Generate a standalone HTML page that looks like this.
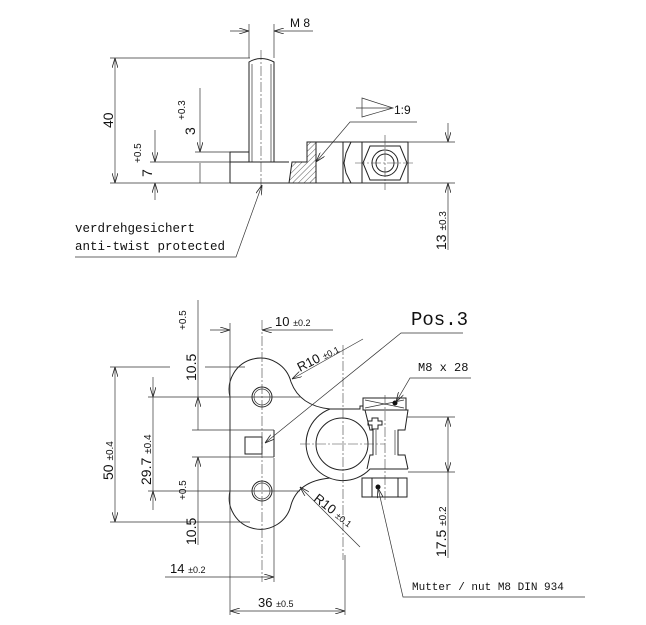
<!DOCTYPE html>
<html><head><meta charset="utf-8"><style>
html,body{margin:0;padding:0;background:#fff;}
svg{display:block;}
.l{stroke:#222;stroke-width:1;fill:none;}
.t{stroke:#333;stroke-width:0.7;fill:none;}
.c{stroke:#444;stroke-width:0.6;fill:none;stroke-dasharray:10 2 2 2;}
.n{font-family:"Liberation Sans",sans-serif;fill:#111;}
.m{font-family:"Liberation Mono",monospace;fill:#111;}
</style></head><body>
<svg width="646" height="625" viewBox="0 0 646 625" xmlns="http://www.w3.org/2000/svg">
<defs>
<marker id="a" viewBox="0 0 10 6" refX="10" refY="3" markerWidth="10" markerHeight="6" orient="auto-start-reverse" markerUnits="userSpaceOnUse"><path d="M0,0 L10,3 L0,6" fill="none" stroke="#222" stroke-width="0.8"/></marker>
<pattern id="h" width="4" height="4" patternUnits="userSpaceOnUse" patternTransform="rotate(45)"><line x1="0" y1="0" x2="0" y2="4" stroke="#333" stroke-width="0.8"/></pattern>
</defs>

<!-- ===== TOP VIEW ===== -->
<path class="l" d="M249,162 L249,62 Q261,55 274,62 L274,162"/>
<line class="t" x1="252" y1="64" x2="252" y2="162"/><line class="t" x1="271" y1="64" x2="271" y2="162"/>
<line class="c" x1="261" y1="50" x2="261" y2="190"/>
<path class="l" d="M230,183 L230,152 L249,152 M230,162 L289,162 M230,183 L408,183 M316,142 L408,142 L408,183"/>
<path d="M292,162 L307,162 L307,142 L316,142 L316,183 L289,183 Z" fill="url(#h)" stroke="#222" stroke-width="1"/>
<line class="l" x1="343" y1="142" x2="343" y2="183"/><line class="l" x1="362" y1="142" x2="362" y2="183"/>
<path class="l" d="M351,142 L346,153 L344,163 L346,173 L351,183"/>
<polygon class="l" points="363,163 370,146 400,146 407,163 400,180 370,180"/>
<circle class="l" cx="385" cy="163" r="13"/><circle class="l" cx="385" cy="163" r="9"/>
<line class="c" x1="355" y1="163" x2="415" y2="163"/><line class="c" x1="385" y1="135" x2="385" y2="190"/>
<polygon class="t" points="362,98 393,108 362,117"/><line class="t" x1="356" y1="108" x2="393" y2="108"/>
<text class="n" x="394" y="114" font-size="12">1:9</text>
<polyline class="t" points="417,122 350,122 316,162" marker-end="url(#a)"/>
<line class="t" x1="249" y1="24" x2="249" y2="58"/><line class="t" x1="274" y1="24" x2="274" y2="58"/>
<line class="t" x1="230" y1="31" x2="249" y2="31" marker-end="url(#a)"/>
<line class="t" x1="313" y1="31" x2="274" y2="31" marker-end="url(#a)"/>
<text class="n" x="290" y="27" font-size="12">M 8</text>
<line class="t" x1="110" y1="58" x2="250" y2="58"/><line class="t" x1="110" y1="183" x2="455" y2="183"/>
<line class="t" x1="115" y1="58" x2="115" y2="183" marker-start="url(#a)" marker-end="url(#a)"/>
<text class="n" font-size="14" transform="translate(113,128) rotate(-90)">40</text>
<line class="t" x1="195" y1="152" x2="230" y2="152"/>
<line class="t" x1="200" y1="88" x2="200" y2="152" marker-end="url(#a)"/>
<line class="t" x1="200" y1="183" x2="200" y2="163"/>
<text class="n" font-size="14" transform="translate(195,135) rotate(-90)">3</text>
<text class="n" font-size="10" transform="translate(185,120) rotate(-90)">+0.3</text>
<line class="t" x1="150" y1="162" x2="230" y2="162"/>
<line class="t" x1="155" y1="130" x2="155" y2="162" marker-end="url(#a)"/>
<line class="t" x1="155" y1="200" x2="155" y2="183" marker-end="url(#a)"/>
<text class="n" font-size="14" transform="translate(152,177) rotate(-90)">7</text>
<text class="n" font-size="10" transform="translate(141,163) rotate(-90)">+0.5</text>
<line class="t" x1="408" y1="142" x2="455" y2="142"/>
<line class="t" x1="448" y1="123" x2="448" y2="142" marker-end="url(#a)"/>
<line class="t" x1="448" y1="250" x2="448" y2="183" marker-end="url(#a)"/>
<text class="n" font-size="14" transform="translate(446,250) rotate(-90)">13 <tspan font-size="10">±0.3</tspan></text>
<text class="m" x="75" y="232" font-size="12.5">verdrehgesichert</text>
<text class="m" x="75" y="250" font-size="12.5">anti-twist protected</text>
<polyline class="t" points="75,257 236,257 262,185" marker-end="url(#a)"/>

<!-- ===== BOTTOM VIEW ===== -->
<path class="l" d="M230,491 L230,397 A31,31 0 0 1 291,382 Q300,406 330,409 L360,409 L360,406 L363,406 L363,410"/>
<path class="l" d="M230,491 A31,31 0 0 0 291,505 Q298,481 330,478"/>
<path class="l" d="M330,409 A37,37 0 1 0 370,469 L408,469"/>
<circle class="l" cx="342" cy="444" r="26"/>
<circle class="l" cx="262" cy="397" r="10"/><circle class="t" cx="262" cy="397" r="8"/>
<circle class="l" cx="262" cy="491" r="10"/><circle class="t" cx="262" cy="491" r="8"/>
<line class="l" x1="274" y1="430" x2="274" y2="457"/>
<rect class="l" x="245" y="437" width="17" height="17"/>
<!-- clamp -->
<rect class="l" x="363" y="398" width="43" height="12"/>
<path class="t" d="M365,400 L404,408 M365,408 L404,400"/>
<circle cx="395" cy="403" r="2.5" fill="#111"/>
<path class="l" d="M363,410 L408,410 L405,430 L398,430 L398,455 L405,455 L408,469 M365,410 L370,430 L373,430 L373,455 L370,455 L367,469"/>
<line class="t" x1="376" y1="430" x2="376" y2="455"/><line class="t" x1="395" y1="430" x2="395" y2="455"/>
<path class="l" d="M372,418 h6 v3 h4 v4 h-4 v4 h-6 v-4 h-4 v-4 h4z"/>
<path class="l" d="M362,478 L407,478 L407,497 L362,497 Z M372,478 L372,497 M398,478 L398,497"/>
<circle cx="378" cy="487" r="2.5" fill="#111"/>
<!-- centerlines -->
<line class="c" x1="262" y1="320" x2="262" y2="582"/>
<line class="c" x1="343" y1="345" x2="343" y2="560"/>
<line class="c" x1="300" y1="444" x2="385" y2="444"/>
<line class="c" x1="385" y1="395" x2="385" y2="500"/>
<!-- ext lines -->
<line class="t" x1="230" y1="323" x2="230" y2="615"/>
<line class="t" x1="274" y1="458" x2="274" y2="582"/>
<line class="t" x1="345" y1="555" x2="345" y2="615"/>
<line class="t" x1="205" y1="367" x2="245" y2="367"/>
<line class="t" x1="110" y1="367" x2="170" y2="367"/>
<line class="t" x1="148" y1="397" x2="300" y2="397"/>
<line class="t" x1="192" y1="430" x2="274" y2="430"/>
<line class="t" x1="192" y1="457" x2="274" y2="457"/>
<line class="t" x1="148" y1="491" x2="300" y2="491"/>
<line class="t" x1="110" y1="522" x2="250" y2="522"/>
<line class="t" x1="210" y1="330" x2="230" y2="330" marker-end="url(#a)"/>
<line class="t" x1="333" y1="330" x2="262" y2="330" marker-end="url(#a)"/>
<text class="n" x="275" y="326" font-size="13">10 <tspan font-size="9">±0.2</tspan></text>
<line class="t" x1="363" y1="339" x2="292" y2="379" marker-end="url(#a)"/>
<text class="n" font-size="13" transform="translate(300,372) rotate(-27)">R10 <tspan font-size="9">±0.1</tspan></text>
<text class="m" x="411" y="325" font-size="19">Pos.3</text>
<polyline class="t" points="463,333 401,333 265,443" marker-end="url(#a)"/>
<text class="m" x="418" y="371" font-size="12">M8 x 28</text>
<polyline class="t" points="471,378 410,378 396,402" marker-end="url(#a)"/>
<line class="t" x1="198" y1="300" x2="198" y2="397"/>
<line class="t" x1="198" y1="430" x2="198" y2="397" marker-end="url(#a)"/>
<text class="n" font-size="14" transform="translate(196,381) rotate(-90)">10.5</text>
<text class="n" font-size="10" transform="translate(186,330) rotate(-90)">+0.5</text>
<line class="t" x1="115" y1="367" x2="115" y2="522" marker-start="url(#a)" marker-end="url(#a)"/>
<text class="n" font-size="14" transform="translate(113,480) rotate(-90)">50 <tspan font-size="10">±0.4</tspan></text>
<line class="t" x1="153" y1="377" x2="153" y2="397" marker-end="url(#a)"/>
<line class="t" x1="153" y1="510" x2="153" y2="491" marker-end="url(#a)"/>
<line class="t" x1="153" y1="397" x2="153" y2="491"/>
<text class="n" font-size="14" transform="translate(151,485) rotate(-90)">29.7 <tspan font-size="10">±0.4</tspan></text>
<line class="t" x1="198" y1="457" x2="198" y2="491" marker-start="url(#a)"/>
<line class="t" x1="198" y1="491" x2="198" y2="545"/>
<text class="n" font-size="14" transform="translate(196,545) rotate(-90)">10.5</text>
<text class="n" font-size="10" transform="translate(186,500) rotate(-90)">+0.5</text>
<line class="t" x1="360" y1="547" x2="300" y2="487" marker-end="url(#a)"/>
<text class="n" font-size="13" transform="translate(313,500) rotate(38)">R10 <tspan font-size="9">±0.1</tspan></text>
<line class="t" x1="407" y1="417" x2="455" y2="417"/><line class="t" x1="408" y1="472" x2="455" y2="472"/>
<line class="t" x1="448" y1="417" x2="448" y2="472" marker-start="url(#a)" marker-end="url(#a)"/>
<line class="t" x1="448" y1="472" x2="448" y2="558"/>
<text class="n" font-size="14" transform="translate(446,557) rotate(-90)">17.5 <tspan font-size="10">±0.2</tspan></text>
<line class="t" x1="165" y1="577" x2="274" y2="577" marker-end="url(#a)"/>
<text class="n" x="170" y="573" font-size="13">14 <tspan font-size="9">±0.2</tspan></text>
<line class="t" x1="230" y1="611" x2="345" y2="611" marker-start="url(#a)" marker-end="url(#a)"/>
<text class="n" x="258" y="607" font-size="13">36 <tspan font-size="9">±0.5</tspan></text>
<text class="m" x="412" y="590" font-size="11">Mutter / nut M8 DIN 934</text>
<polyline class="t" points="585,597 403,597 378,488" marker-end="url(#a)"/>
</svg>
</body></html>
